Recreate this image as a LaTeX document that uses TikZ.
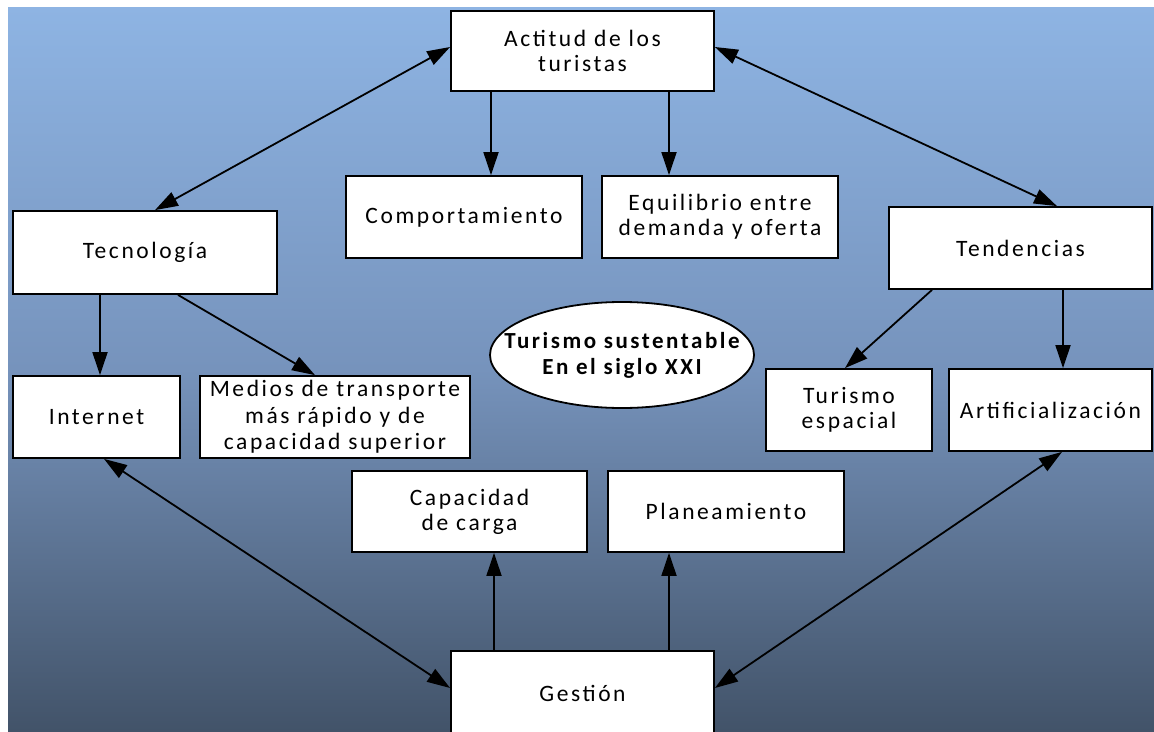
\documentclass[tikz,border=0pt]{standalone}
\usepackage{fontspec}
\setmainfont{Carlito}[LetterSpace=11]
\usetikzlibrary{arrows.meta,shapes.geometric}
\definecolor{bgtop}{RGB}{142,180,227}
\definecolor{bgmid}{RGB}{118,147,188}
\definecolor{bgbot}{RGB}{66,83,105}
\tikzset{
  box/.style={draw=black, line width=1.8pt, fill=white, align=center, inner sep=2pt,
    font=\fontsize{23.5}{25}\selectfont},
  tip/.tip={Triangle[length=23pt,width=15pt]},
  link/.style={line width=1.8pt, -tip},
  dlink/.style={line width=1.8pt, tip-tip},
}
\begin{document}
\begin{tikzpicture}[x=1pt,y=-1pt]
\useasboundingbox (0,0) rectangle (1154,731);
\shade[top color=bgtop, bottom color=bgbot, middle color=bgmid] (8,7) rectangle (1154,731);
% nodes
\node[box, minimum width=263pt, minimum height=80pt] (act) at (582.5,51) {Actitud de los\\turistas};
\node[box, minimum width=236pt, minimum height=82pt] (comp) at (464,217) {Comportamiento};
\node[box, minimum width=236pt, minimum height=82pt] (equi) at (720,217) {Equilibrio entre\\demanda y oferta};
\node[box, minimum width=264pt, minimum height=83pt] (tec) at (145,252.5) {Tecnología};
\node[box, minimum width=263pt, minimum height=82pt] (ten) at (1020.5,248) {Tendencias};
\node[box, minimum width=167pt, minimum height=82pt] (inet) at (96.5,417) {Internet};
\node[box, minimum width=270pt, minimum height=82pt, font=\fontsize{23.5}{26.5}\selectfont] (med) at (335,417) {Medios de transporte\\más rápido y de\\capacidad superior};
\node[box, minimum width=166pt, minimum height=82pt] (tesp) at (849,410) {Turismo\\espacial};
\node[box, minimum width=203pt, minimum height=82pt] (art) at (1050.5,410) {Artificialización};
\node[box, minimum width=235pt, minimum height=81pt] (cap) at (469.5,511.5) {Capacidad\\de carga};
\node[box, minimum width=236pt, minimum height=81pt] (plan) at (726,511.5) {Planeamiento};
\node[box, minimum width=263pt, minimum height=84pt] (ges) at (582.5,693) {Gestión};
\node[draw=black, line width=1.8pt, fill=white, ellipse, minimum width=264pt, minimum height=106pt,
  align=center, inner xsep=-60pt, inner ysep=-10pt, font=\bfseries\fontsize{23}{26}\selectfont] (tur) at (622,355) {Turismo sustentable\\En el siglo XXI};
% connectors
\draw[dlink] (act.west |- 0,47) -- (tec.north -| 155,0);
\draw[dlink] (act.east |- 0,47) -- (ten.north -| 1057,0);
\draw[link] (act.south -| 491,0) -- (comp.north -| 491,0);
\draw[link] (act.south -| 669,0) -- (equi.north -| 669,0);
\draw[link] (tec.south -| 100,0) -- (inet.north -| 100,0);
\draw[link] (tec.south -| 178,0) -- (med.north -| 315,0);
\draw[link] (ten.south -| 932,0) -- (tesp.north -| 845,0);
\draw[link] (ten.south -| 1063,0) -- (art.north -| 1063,0);
\draw[dlink] (inet.south -| 104,0) -- (ges.west |- 0,688);
\draw[dlink] (art.south -| 1062,0) -- (ges.east |- 0,688);
\draw[link] (ges.north -| 494,0) -- (cap.south -| 494,0);
\draw[link] (ges.north -| 669,0) -- (plan.south -| 669,0);
\end{tikzpicture}
\end{document}
